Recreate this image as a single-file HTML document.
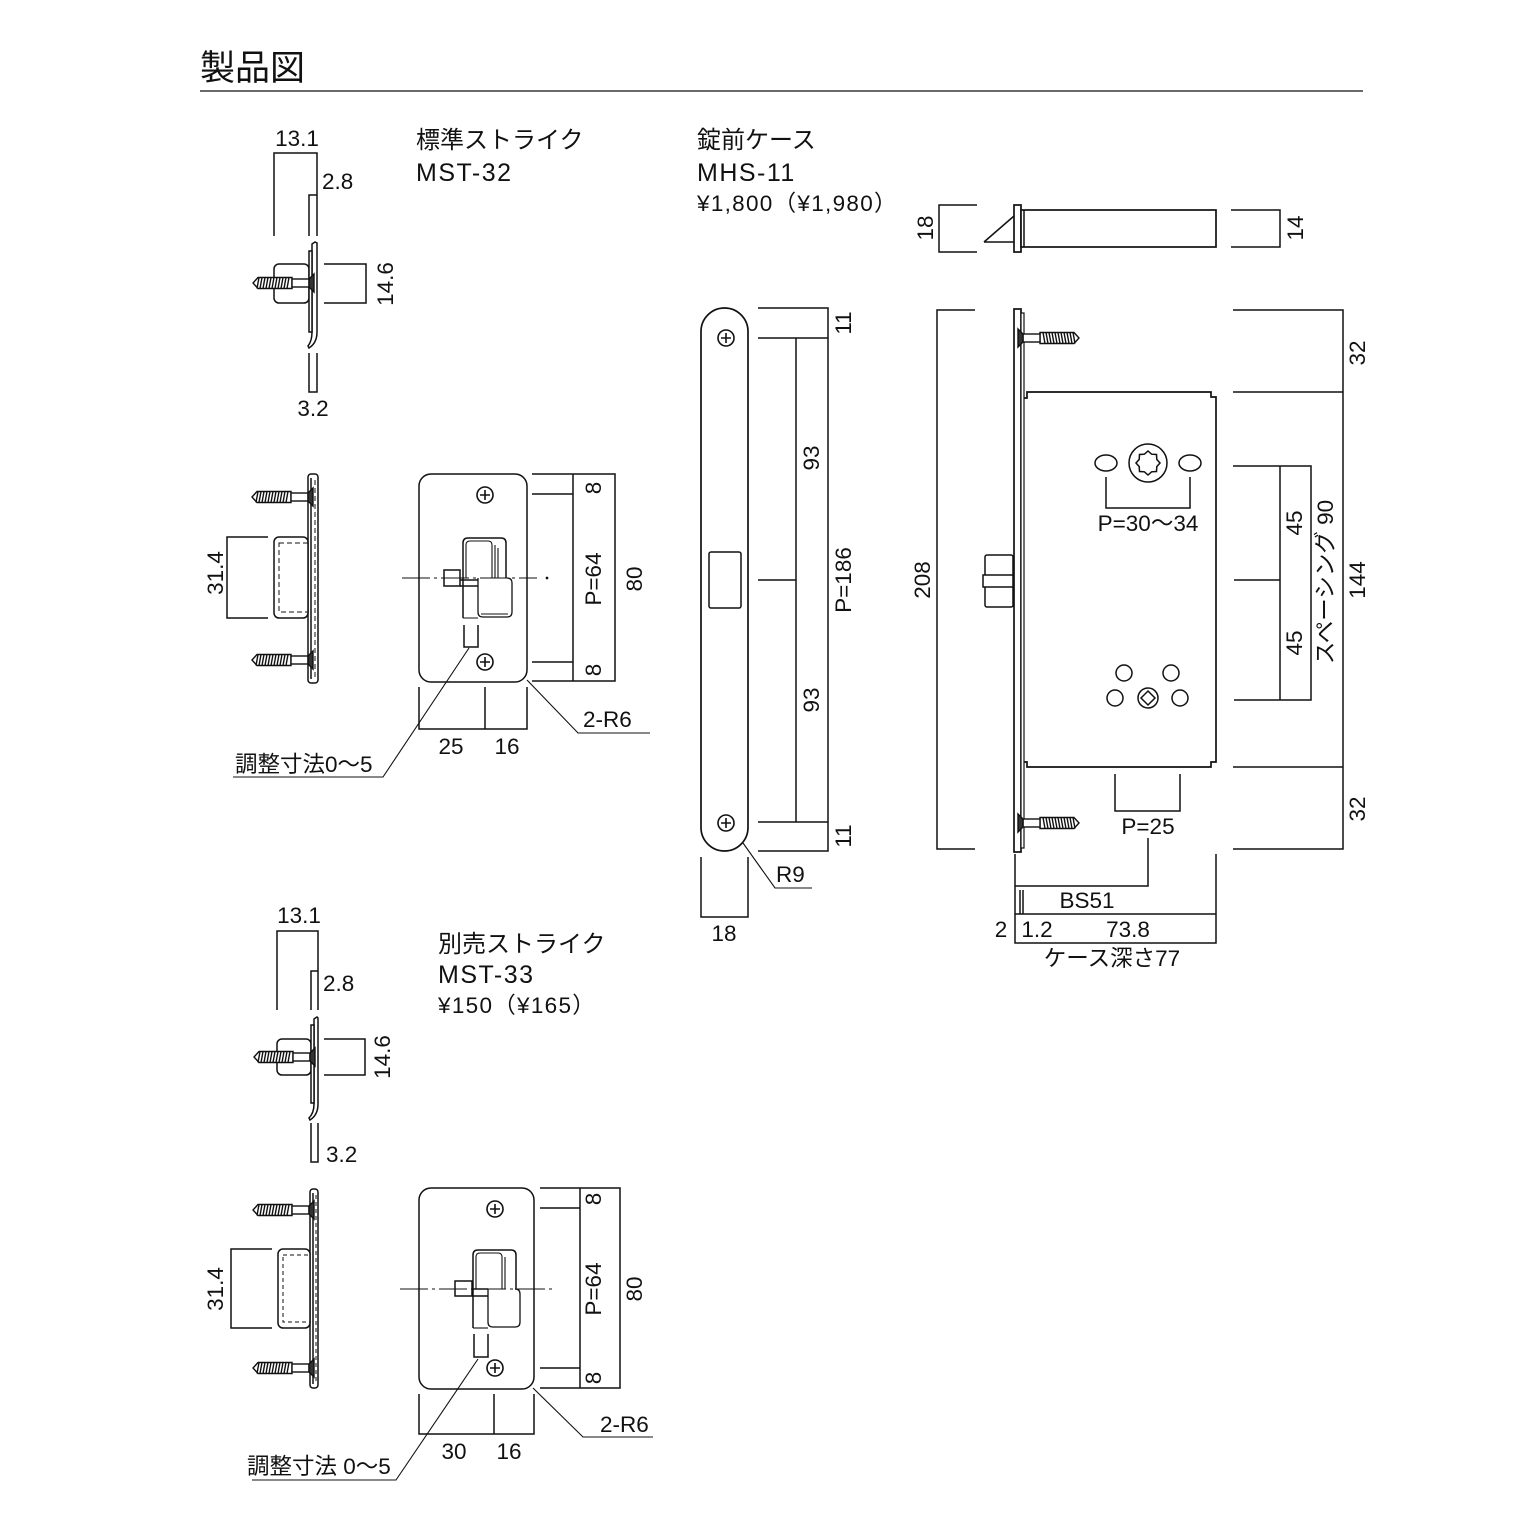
<!DOCTYPE html>
<html><head><meta charset="utf-8"><style>
html,body{margin:0;padding:0;background:#fff}
svg{display:block}
text{font-family:"Liberation Sans","Noto Sans CJK JP",sans-serif;fill:#111}
</style></head><body>
<svg width="1530" height="1530" viewBox="0 0 1530 1530" xmlns="http://www.w3.org/2000/svg">
<defs>
<g id="screwL" stroke="#111" stroke-width="1.4" fill="#fff">
<path d="M-22,-5.5 L-56,-5.5 L-61,0 L-56,5.5 L-22,5.5 Z"/>
<path d="M-25,-5.5 l-2,11 M-28,-5.5 l-2,11 M-31,-5.5 l-2,11 M-34,-5.5 l-2,11 M-37,-5.5 l-2,11 M-40,-5.5 l-2,11 M-43,-5.5 l-2,11 M-46,-5.5 l-2,11 M-49,-5.5 l-2,11 M-52,-5.5 l-2,11 M-55,-5.5 l-2,11" fill="none"/>
<rect x="-22" y="-4" width="17" height="8"/>
<path d="M0,-9 L-5,-4 L-5,4 L0,9 Z" fill="#333"/>
</g>
<g id="phil" stroke="#111" stroke-width="1.6" fill="none">
<circle r="8"/><path d="M-5,0 H5 M0,-5 V5"/>
</g>
</defs>

<g stroke="#111" stroke-width="1.5" fill="none">
<!-- title -->
<line x1="200" y1="91" x2="1363" y2="91" stroke-width="1.2"/>

<!-- ===== MST-32 top side view ===== -->
<path d="M274,236 V153 H317 V236"/>
<path d="M309,236 V195 H317"/>
<path d="M309,353 V392 H317 V353"/>
<path d="M324,264 H366 V303 H324"/>
<rect x="274" y="264" width="35" height="39" rx="5" fill="#fff"/>
<path d="M312,244 L315,242 L317,243 L317,332 Q317,343 309,348 L308,346 Q312,341 312,332 Z" fill="#fff"/>
<rect x="309" y="251" width="3" height="81" fill="#fff"/>
<use href="#screwL" x="314" y="283"/>

<!-- ===== MST-32 side with two screws ===== -->
<rect x="308" y="474" width="10" height="209" rx="3" fill="#fff"/>
<line x1="311" y1="478" x2="311" y2="679"/>
<line x1="315" y1="480" x2="315" y2="677" stroke-dasharray="5,3" stroke-width="1"/>
<use href="#screwL" x="313" y="497"/>
<use href="#screwL" x="313" y="660"/>
<rect x="274" y="537" width="34" height="81" rx="5" fill="#fff"/>
<rect x="279" y="543" width="29" height="69" stroke-dasharray="5,3" stroke-width="1"/>
<path d="M268,537 H227 V618 H268"/>

<!-- ===== MST-32 front ===== -->
<rect x="419" y="474" width="108" height="208" rx="12" fill="#fff"/>
<use href="#phil" x="485" y="495"/>
<use href="#phil" x="485" y="662"/>
<path d="M463,618 V543 Q463,538 468,538 H501 Q506,538 506,543 V578"/>
<path d="M466,578 V545 Q466,541 470,541 H488 Q492,541 492,545 V578 M495,545 V578 M498,548 V578" stroke-width="1.1"/>
<path d="M478,578 V612 Q478,617 483,617 H507 Q512,617 512,612 V583 Q512,578 507,578" stroke-width="1.3"/>
<path d="M463,618 H478 M481,614 H508" stroke-width="1.1"/>
<rect x="444" y="570" width="16" height="16" fill="#fff"/>
<path d="M460,580 H478 M460,586 H478"/>
<line x1="402" y1="578" x2="537" y2="578" stroke-width="1" stroke-dasharray="28,4,3,4"/>
<circle cx="547" cy="578" r="0.6" fill="#111"/>
<path d="M464,625 V647 H478 V625"/>
<path d="M469,648 L383,777 H233" stroke-width="1.1"/>
<path d="M532,474 H615 V681 H532 M532,494 H573 M532,662 H573 M573,474 V681"/>
<path d="M419,687 V729 H527 V687 M485,687 V729"/>
<path d="M527,680 L578,733 H650" stroke-width="1.1"/>

<!-- ===== MHS-11 faceplate ===== -->
<rect x="701" y="308" width="47" height="543" rx="23.5" fill="#fff" stroke-width="1.7"/>
<use href="#phil" x="726" y="338"/>
<use href="#phil" x="726" y="823"/>
<rect x="709" y="552" width="32" height="56" rx="2"/>
<path d="M758,308 H828 V851 H758 M758,338 H828 M758,822 H828 M758,580 H796 M796,338 V822"/>
<path d="M743,843 L775,888 H812" stroke-width="1.1"/>
<path d="M701,857 V917 H748 V857"/>

<!-- ===== bolt top view ===== -->
<path d="M977,205 H939 V252 H977"/>
<path d="M984,242 L1014,216 M984,242 H1014" stroke-width="1.5"/>
<rect x="1014" y="205" width="7" height="47" fill="#fff" stroke-width="1.7"/>
<rect x="1021" y="210" width="195" height="37" fill="#fff" stroke-width="1.7"/>
<line x1="1024" y1="210" x2="1024" y2="247"/>
<path d="M1231,210 H1280 V247 H1231"/>

<!-- ===== case side view ===== -->
<path d="M975,310 H937 V849 H975"/>
<rect x="1014" y="309" width="7" height="543" fill="#fff" stroke-width="1.7"/>
<rect x="1021" y="313" width="3" height="535" fill="#fff" stroke-width="1.2"/>
<path d="M1024,398 H1027 V392 H1211 V397 H1216 V762 H1211 V767 H1027 V762 H1024" stroke-width="1.7"/>
<g transform="translate(1018,338) scale(-1,1)"><use href="#screwL"/></g>
<g transform="translate(1018,823) scale(-1,1)"><use href="#screwL"/></g>
<rect x="985" y="555" width="28" height="52" rx="2" fill="#fff"/>
<rect x="983" y="575" width="30" height="12" fill="#fff"/>
<!-- cylinder -->
<circle cx="1148" cy="463" r="19"/>
<polygon transform="translate(1148,463)" points="0,-12 3.6,-8.8 8.5,-8.5 8.8,-3.6 12,0 8.8,3.6 8.5,8.5 3.6,8.8 0,12 -3.6,8.8 -8.5,8.5 -8.8,3.6 -12,0 -8.8,-3.6 -8.5,-8.5 -3.6,-8.8"/>
<ellipse cx="1106" cy="463" rx="11" ry="8"/>
<ellipse cx="1190" cy="463" rx="11" ry="8"/>
<path d="M1106,477 V508 H1190 V477"/>
<!-- lower holes -->
<circle cx="1124" cy="673" r="8"/>
<circle cx="1171" cy="673" r="8"/>
<circle cx="1115" cy="698" r="8"/>
<circle cx="1180" cy="698" r="8"/>
<circle cx="1148" cy="698" r="10"/>
<path d="M1148,691 L1155,698 L1148,705 L1141,698 Z"/>
<path d="M1115,774 V811 H1180 V774"/>
<!-- right dims -->
<path d="M1233,310 H1343 V849 H1233 M1233,392 H1343 M1233,767 H1343"/>
<path d="M1233,466 H1311 V700 H1234 M1280,466 V700 M1234,580 H1280"/>
<!-- bottom dims -->
<path d="M1148,838 V886 H1015"/>
<path d="M1015,854 V943 H1216 V854 M1015,914 H1216 M1020,890 V914 M1023,890 V914"/>

<!-- ===== MST-33 side top ===== -->
<path d="M277,1010 V931 H318 V1010"/>
<path d="M311,1010 V971 H318"/>
<path d="M311,1123 V1162 H318 V1123"/>
<path d="M324,1039 H365 V1075 H324"/>
<rect x="277" y="1039" width="34" height="36" rx="5" fill="#fff"/>
<path d="M314,1019 L317,1017 L318,1018 L318,1104 Q318,1115 310,1120 L309,1118 Q314,1113 314,1104 Z" fill="#fff"/>
<rect x="311" y="1025" width="3" height="78" fill="#fff"/>
<use href="#screwL" x="315" y="1057"/>

<!-- ===== MST-33 side with two screws ===== -->
<rect x="310" y="1189" width="8" height="199" rx="3" fill="#fff"/>
<line x1="313" y1="1193" x2="313" y2="1384"/>
<line x1="316" y1="1195" x2="316" y2="1382" stroke-dasharray="4,3" stroke-width="1"/>
<use href="#screwL" x="314" y="1210"/>
<use href="#screwL" x="314" y="1368"/>
<rect x="278" y="1249" width="32" height="79" rx="5" fill="#fff"/>
<rect x="283" y="1255" width="27" height="67" stroke-dasharray="4,3" stroke-width="1"/>
<path d="M272,1249 H231 V1328 H272"/>

<!-- ===== MST-33 front ===== -->
<rect x="419" y="1188" width="115" height="201" rx="12" fill="#fff"/>
<use href="#phil" x="495" y="1209"/>
<use href="#phil" x="495" y="1368"/>
<path d="M473,1328 V1255 Q473,1250 478,1250 H511 Q516,1250 516,1255 V1289"/>
<path d="M476,1289 V1257 Q476,1253 480,1253 H498 Q502,1253 502,1257 V1289 M505,1257 V1289" stroke-width="1.1"/>
<path d="M488,1289 V1322 Q488,1327 493,1327 H515 Q520,1327 520,1322 V1294 Q520,1289 515,1289" stroke-width="1.3"/>
<path d="M473,1328 H488" stroke-width="1.1"/>
<rect x="455" y="1281" width="17" height="15" fill="#fff"/>
<path d="M472,1289 H488 M472,1296 H488"/>
<line x1="400" y1="1289" x2="552" y2="1289" stroke-width="1" stroke-dasharray="28,4,3,4"/>
<path d="M474,1334 V1357 H488 V1334"/>
<path d="M478,1359 L396,1480 H252" stroke-width="1.1"/>
<path d="M540,1188 H620 V1388 H540 M540,1208 H580 M540,1368 H580 M580,1188 V1388"/>
<path d="M419,1394 V1434 H534 V1394 M494,1394 V1434"/>
<path d="M533,1388 L583,1437 H653" stroke-width="1.1"/>
</g>

<!-- ================= TEXT ================= -->
<text x="200" y="80" font-size="35">製品図</text>

<g font-size="22.5">
<text x="297" y="146" text-anchor="middle">13.1</text>
<text x="322" y="189">2.8</text>
<text x="313" y="416" text-anchor="middle">3.2</text>
<text transform="translate(393,284) rotate(-90)" text-anchor="middle">14.6</text>
<text transform="translate(223,573) rotate(-90)" text-anchor="middle">31.4</text>
<text transform="translate(601,488) rotate(-90)" text-anchor="middle">8</text>
<text transform="translate(601,579) rotate(-90)" text-anchor="middle">P=64</text>
<text transform="translate(601,670) rotate(-90)" text-anchor="middle">8</text>
<text transform="translate(642,579) rotate(-90)" text-anchor="middle">80</text>
<text x="451" y="754" text-anchor="middle">25</text>
<text x="507" y="754" text-anchor="middle">16</text>
<text x="583" y="727">2-R6</text>
<text x="235" y="772">調整寸法0〜5</text>
</g>
<text x="416" y="148" font-size="24">標準ストライク</text>
<text x="416" y="181" font-size="25" letter-spacing="1.5">MST-32</text>

<text x="697" y="148" font-size="24">錠前ケース</text>
<text x="697" y="181" font-size="25" letter-spacing="1.5">MHS-11</text>
<text x="697" y="211" font-size="22.5" letter-spacing="1.3">¥1,800（¥1,980）</text>

<g font-size="22.5">
<text transform="translate(851,323) rotate(-90)" text-anchor="middle">11</text>
<text transform="translate(819,458) rotate(-90)" text-anchor="middle">93</text>
<text transform="translate(851,580) rotate(-90)" text-anchor="middle">P=186</text>
<text transform="translate(819,700) rotate(-90)" text-anchor="middle">93</text>
<text transform="translate(851,836) rotate(-90)" text-anchor="middle">11</text>
<text x="776" y="882">R9</text>
<text x="724" y="941" text-anchor="middle">18</text>

<text transform="translate(933,228) rotate(-90)" text-anchor="middle">18</text>
<text transform="translate(1303,228) rotate(-90)" text-anchor="middle">14</text>
<text transform="translate(930,580) rotate(-90)" text-anchor="middle">208</text>
<text transform="translate(1365,353) rotate(-90)" text-anchor="middle">32</text>
<text transform="translate(1365,580) rotate(-90)" text-anchor="middle">144</text>
<text transform="translate(1365,809) rotate(-90)" text-anchor="middle">32</text>
<text transform="translate(1302,523) rotate(-90)" text-anchor="middle">45</text>
<text transform="translate(1302,643) rotate(-90)" text-anchor="middle">45</text>
<text transform="translate(1333,582) rotate(-90)" text-anchor="middle">スペーシング 90</text>
<text x="1148" y="531" text-anchor="middle">P=30〜34</text>
<text x="1148" y="834" text-anchor="middle">P=25</text>
<text x="1087" y="908" text-anchor="middle">BS51</text>
<text x="1001" y="937" text-anchor="middle">2</text>
<text x="1037" y="937" text-anchor="middle">1.2</text>
<text x="1128" y="937" text-anchor="middle">73.8</text>
<text x="1112" y="966" text-anchor="middle">ケース深さ77</text>
</g>

<g font-size="22.5">
<text x="299" y="923" text-anchor="middle">13.1</text>
<text x="323" y="991">2.8</text>
<text x="326" y="1162">3.2</text>
<text transform="translate(390,1057) rotate(-90)" text-anchor="middle">14.6</text>
<text transform="translate(223,1289) rotate(-90)" text-anchor="middle">31.4</text>
<text transform="translate(601,1199) rotate(-90)" text-anchor="middle">8</text>
<text transform="translate(601,1289) rotate(-90)" text-anchor="middle">P=64</text>
<text transform="translate(601,1378) rotate(-90)" text-anchor="middle">8</text>
<text transform="translate(642,1289) rotate(-90)" text-anchor="middle">80</text>
<text x="454" y="1459" text-anchor="middle">30</text>
<text x="509" y="1459" text-anchor="middle">16</text>
<text x="600" y="1432">2-R6</text>
<text x="247" y="1474">調整寸法 0〜5</text>
</g>
<text x="438" y="952" font-size="24">別売ストライク</text>
<text x="438" y="983" font-size="25" letter-spacing="1.5">MST-33</text>
<text x="438" y="1013" font-size="22.5" letter-spacing="1.3">¥150（¥165）</text>
</svg>
</body></html>
